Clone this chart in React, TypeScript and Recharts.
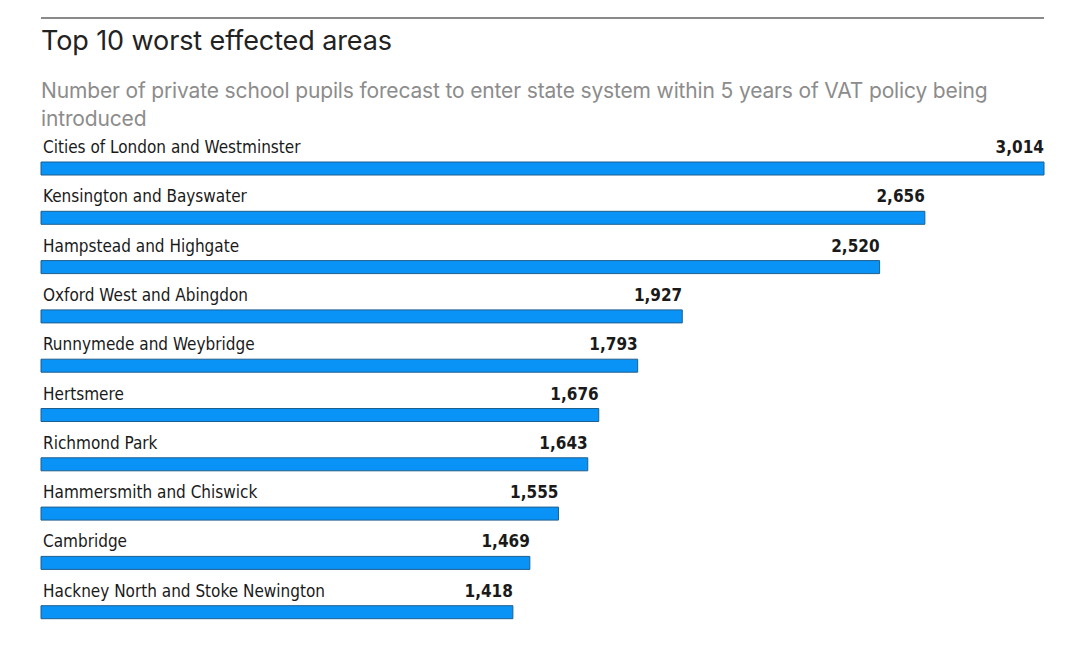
import { Bar, BarChart, LabelList, XAxis, YAxis } from "recharts";

const AREAS = [
  "Cities of London and Westminster",
  "Kensington and Bayswater",
  "Hampstead and Highgate",
  "Oxford West and Abingdon",
  "Runnymede and Weybridge",
  "Hertsmere",
  "Richmond Park",
  "Hammersmith and Chiswick",
  "Cambridge",
  "Hackney North and Stoke Newington",
];

const PUPILS = [3014, 2656, 2520, 1927, 1793, 1676, 1643, 1555, 1469, 1418];

const data = AREAS.map((name, i) => ({ name, pupils: PUPILS[i] }));

const LABEL_FONT = "'Liberation Sans Narrow', 'DejaVu Sans Condensed', 'Roboto Condensed', sans-serif";

function NameLabel(props: any) {
  const { x, y, value } = props;
  return (
    <text x={x + 2} y={y - 9} fill="#1a1a1a" fontSize={17} fontFamily={LABEL_FONT}>
      {value}
    </text>
  );
}

function ValueLabel(props: any) {
  const { x, y, width, value } = props;
  return (
    <text
      x={x + width}
      y={y - 9}
      fill="#1a1a1a"
      fontSize={17}
      fontWeight={700}
      fontFamily={LABEL_FONT}
      textAnchor="end"
    >
      {Number(value).toLocaleString("en-GB")}
    </text>
  );
}

export default function App() {
  return (
    <div style={{ position: "absolute", left: 0, top: 0, width: 1080, height: 645, background: "#fff" }}>
      <div style={{ position: "absolute", left: 41, top: 17, width: 1003, height: 2, background: "#8a8a8a" }} />
      <div
        style={{
          position: "absolute",
          left: 41,
          top: 24,
          fontFamily: "Inter, sans-serif",
          fontSize: 27,
          color: "#222",
          letterSpacing: -0.1,
        }}
      >
        Top 10 worst effected areas
      </div>
      <div
        style={{
          position: "absolute",
          left: 41,
          top: 77,
          width: 1000,
          fontFamily: "Inter, sans-serif",
          fontSize: 21,
          lineHeight: "28px",
          color: "#8c8c8c",
          letterSpacing: -0.15,
        }}
      >
        Number of private school pupils forecast to enter state system within 5 years of VAT policy being introduced
      </div>
      <div style={{ position: "absolute", left: 0, top: 0 }}>
        <BarChart
          width={1080}
          height={645}
          data={data}
          layout="vertical"
          margin={{ top: 144, right: 36, bottom: 8, left: 41 }}
        >
          <XAxis type="number" domain={[0, 3014]} hide />
          <YAxis type="category" dataKey="name" hide />
          <Bar dataKey="pupils" barSize={13} fill="#0a93f7" stroke="#1d5f8e" strokeWidth={1} isAnimationActive={false}>
            <LabelList dataKey="name" content={<NameLabel />} />
            <LabelList dataKey="pupils" content={<ValueLabel />} />
          </Bar>
        </BarChart>
      </div>
    </div>
  );
}
